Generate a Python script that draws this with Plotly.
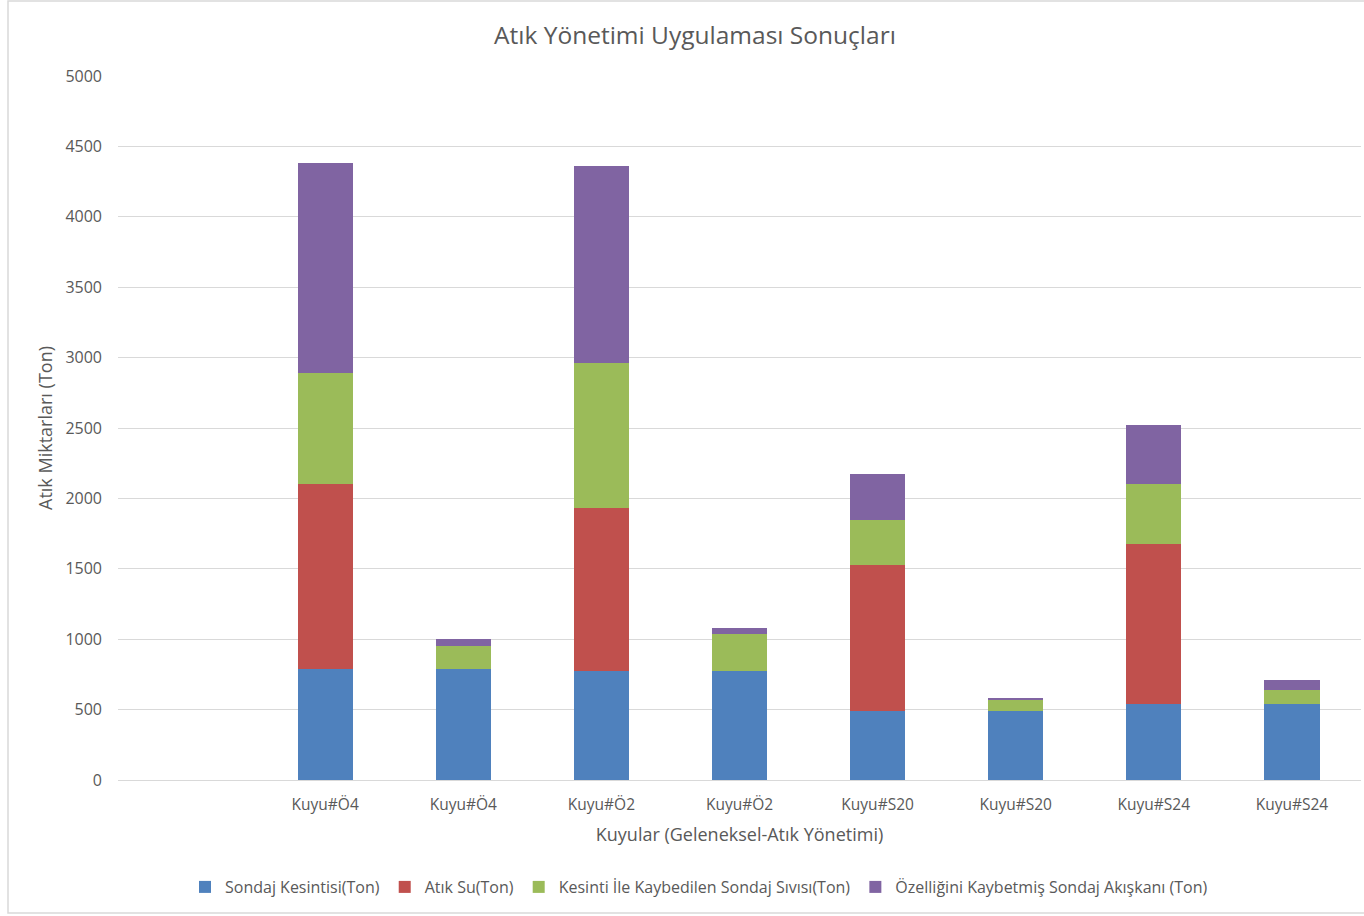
import plotly.graph_objects as go

categories = ["", "Kuyu#Ö4", "Kuyu#Ö4", "Kuyu#Ö2", "Kuyu#Ö2", "Kuyu#S20", "Kuyu#S20", "Kuyu#S24", "Kuyu#S24"]
sondaj_kesintisi = [None, 790, 790, 775, 775, 490, 490, 540, 540]
atik_su = [None, 1310, 0, 1155, 0, 1035, 0, 1135, 0]
kesinti_sivi = [None, 790, 160, 1030, 260, 325, 80, 425, 100]
ozellik_akiskan = [None, 1490, 55, 1400, 45, 325, 8, 420, 70]

series_names = [
    "Sondaj Kesintisi(Ton)",
    "Atık Su(Ton)",
    "Kesinti İle Kaybedilen Sondaj Sıvısı(Ton)",
    "Özelliğini Kaybetmiş Sondaj Akışkanı (Ton)",
]
series_values = [sondaj_kesintisi, atik_su, kesinti_sivi, ozellik_akiskan]
colors = ["#4F81BD", "#C0504D", "#9BBB59", "#8064A2"]

x_pos = list(range(len(categories)))

fig = go.Figure()
for name, vals, col in zip(series_names, series_values, colors):
    fig.add_trace(go.Bar(x=x_pos, y=vals, name=name, marker=dict(color=col, line=dict(width=0))))

font_family = "Open Sans, Noto Sans, sans-serif"
grey = "#595959"

fig.update_layout(
    barmode="stack",
    bargap=0.6,
    width=1364,
    height=916,
    paper_bgcolor="white",
    plot_bgcolor="white",
    margin=dict(l=118, r=3, t=76, b=136),
    font=dict(family=font_family, color=grey, size=14),
    title=dict(text="Atık Yönetimi Uygulaması Sonuçları", x=0.5095, xanchor="center",
               y=1 - 35 / 916, yanchor="middle", font=dict(size=24.5, color=grey)),
    xaxis=dict(
        tickmode="array", tickvals=x_pos, ticktext=categories,
        range=[-0.5, len(categories) - 0.5],
        showgrid=False, showline=True, linecolor="#D9D9D9", linewidth=1,
        ticks="", tickfont=dict(size=15.5, color=grey), ticklabelstandoff=10,
        title=dict(text="Kuyular (Geleneksel-Atık Yönetimi)", font=dict(size=18, color=grey), standoff=14),
    ),
    yaxis=dict(
        range=[0, 5000], dtick=500, showgrid=True, gridcolor="#D9D9D9", gridwidth=1,
        zeroline=False, showline=False, ticks="", ticklen=0,
        tickfont=dict(size=16, color=grey), ticklabelstandoff=15,
        title=dict(text="Atık Miktarları (Ton)", font=dict(size=18, color=grey), standoff=8),
    ),
    legend=dict(orientation="h", x=(699 - 118) / 1243, xanchor="center", y=-(887 - 780) / 704, yanchor="middle",
                font=dict(size=16, color=grey), itemwidth=30, traceorder="normal",
                itemclick=False),
    shapes=[dict(type="rect", xref="paper", yref="paper",
                 x0=(8 - 118) / 1243, x1=(1366 - 118) / 1243,
                 y0=-(913 - 780) / 704, y1=(780 - 1) / 704,
                 line=dict(color="#D9D9D9", width=1.5), layer="below")],
)

fig.write_html("out.html")
